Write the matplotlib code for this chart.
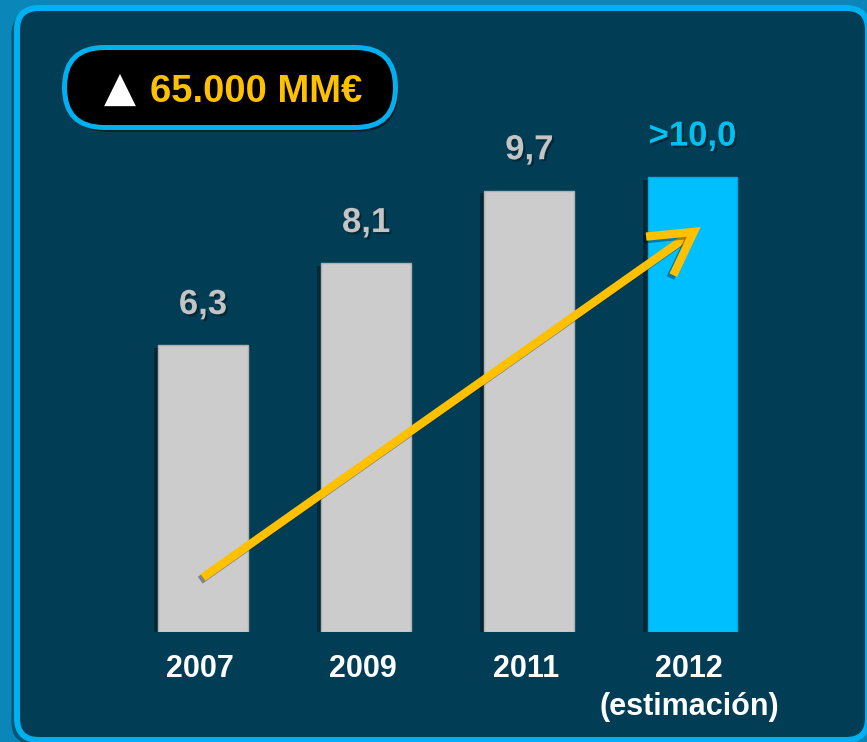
import matplotlib
matplotlib.use("Agg")
import matplotlib.pyplot as plt
import matplotlib.patheffects as pe
from matplotlib.patches import FancyBboxPatch

plt.rcParams['font.family'] = ['Liberation Sans', 'DejaVu Sans']

# data
years = ["2007", "2009", "2011", "2012\n(estimación)"]
values = [6.3, 8.1, 9.7, 10.0]
value_labels = ["6,3", "8,1", "9,7", ">10,0"]
estimate = [False, False, False, True]
badge_text = "65.000 MM€"

# trend arrow (data units)
arrow_start = (0.0, 1.2)
arrow_end = (3.05, 8.9)

W, H = 867, 742
bg_out = '#0a87b8'
panel_fill = '#013e55'
cyan = '#00b0f0'
yellow = '#ffc000'

fig = plt.figure(figsize=(W / 100, H / 100), dpi=100)
fig.patch.set_facecolor(bg_out)

# background layer in pixel coordinates
bg = fig.add_axes([0, 0, 1, 1])
bg.set_xlim(0, W)
bg.set_ylim(H, 0)
bg.axis('off')

panel = FancyBboxPatch((17, 8), 851, 732, boxstyle="round,pad=0,rounding_size=22",
                       fc=panel_fill, ec=cyan, lw=4.3)
panel.set_path_effects([pe.withSimplePatchShadow(offset=(-4, -3), shadow_rgbFace='#00324a', alpha=0.6)])
bg.add_patch(panel)

badge = FancyBboxPatch((64.5, 47.5), 331, 80, boxstyle="round,pad=0,rounding_size=40",
                       fc='black', ec=cyan, lw=3.6)
badge.set_path_effects([pe.withSimplePatchShadow(offset=(2, -3), shadow_rgbFace='black', alpha=0.5)])
bg.add_patch(badge)
bg.text(104, 102, '▲', color='white', fontsize=30, family=['DejaVu Sans'], va='baseline', ha='left')
bg.text(150, 102, badge_text, color=yellow, fontsize=27.5, weight='bold', va='baseline', ha='left')

# bars
ax = fig.add_axes([121.4 / W, (H - 632) / H, 652.7 / W, 546 / H])
ax.set_xlim(-0.5, 3.5)
ax.set_ylim(0, 12)
ax.axis('off')
ax.patch.set_alpha(0)

x = list(range(len(years)))
bar_colors = ['#00bfff' if e else '#cccccc' for e in estimate]
edge_colors = ['#00a8e0' if e else '#b0b0b0' for e in estimate]
shadow = [pe.withSimplePatchShadow(offset=(-3, -2), shadow_rgbFace='black', alpha=0.35)]
ax.bar(x, values, width=0.55, color=bar_colors, edgecolor=edge_colors, linewidth=1,
       path_effects=shadow)

txt_shadow = [pe.withSimplePatchShadow(offset=(1.5, -1.5), shadow_rgbFace='black', alpha=0.35)]
for i, (v, lab, e) in enumerate(zip(values, value_labels, estimate)):
    ax.text(i, v + 0.69, lab, ha='center', va='baseline', fontsize=25, weight='bold',
            color='#00c0f0' if e else '#c4c4c4', path_effects=txt_shadow)

for i, yr in enumerate(years):
    ax.text(i - 0.02, -0.48, yr, ha='center', va='top', fontsize=22, weight='bold',
            color='white', linespacing=1.35, clip_on=False)

ann = ax.annotate('', xy=arrow_end, xytext=arrow_start,
                  arrowprops=dict(arrowstyle='->,head_length=1.5,head_width=0.85', color=yellow,
                                  lw=6, mutation_scale=20, shrinkA=0, shrinkB=0,
                                  joinstyle='miter', capstyle='butt'))
ann.arrow_patch.set_path_effects([pe.SimpleLineShadow(offset=(-2, -2), shadow_color='black', alpha=0.35),
                                  pe.Normal()])

fig.savefig('out.png', dpi=100, facecolor=fig.get_facecolor())
